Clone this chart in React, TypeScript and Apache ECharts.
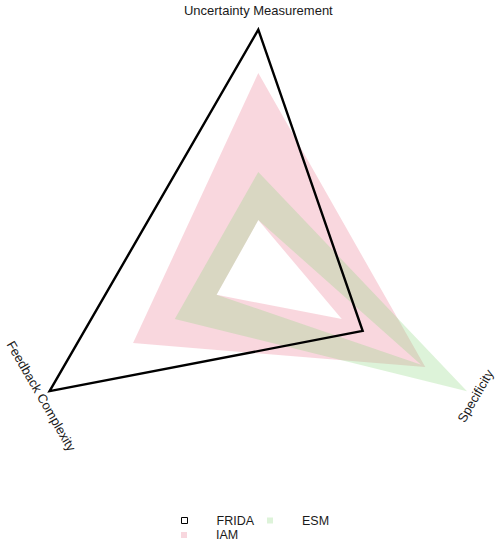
import React, { useEffect, useRef } from 'react';
import * as echarts from 'echarts';

// Radar axes (clockwise from the top)
const axisNames = ['Uncertainty Measurement', 'Specificity', 'Feedback Complexity'];
// FRIDA: single outline
const fridaValues = [1.0, 0.5, 1.0];
// IAM: range band (low / high per axis)
const iamLow = [0.21, 0.4, 0.2];
const iamHigh = [0.82, 0.8, 0.6];
// ESM: range band (low / high per axis)
const esmLow = [0.21, 0.78, 0.2];
const esmHigh = [0.41, 1.0, 0.4];

const angleOf = (i: number) => (i * 360) / axisNames.length;
const FONT = "'Liberation Sans', Arial, Helvetica, sans-serif";

export default function App() {
  const ref = useRef<HTMLDivElement>(null);
  useEffect(() => {
    const chart = echarts.init(ref.current!, null, { renderer: 'svg' });

    const band = (low: number[], high: number[], fill: string) => (params: any, api: any) => {
      const o = high.map((v, i) => api.coord([v, angleOf(i)]));
      const inn = low.map((v, i) => api.coord([v, angleOf(i)]));
      const points = [o[0], o[1], o[2], o[0], inn[0], inn[2], inn[1], inn[0]];
      return { type: 'polygon', shape: { points }, style: { fill, stroke: 'none' } };
    };

    const outline = (vals: number[]) => (params: any, api: any) => {
      const points = vals.map((v, i) => api.coord([v, angleOf(i)]));
      return {
        type: 'polygon',
        shape: { points },
        style: { fill: 'none', stroke: '#000', lineWidth: 2.4, lineJoin: 'miter', miterLimit: 10 },
      };
    };

    const labelItem = (params: any, api: any) => {
      const i = params.dataIndex;
      const ang = angleOf(i);
      const theta = 90 - ang; // screen angle (deg, CCW)
      const r = 1.04 + 0.04 * Math.max(0, Math.sin((theta * Math.PI) / 180));
      const p = api.coord([r, ang]);
      let rot = theta - 90;
      while (rot <= -90) rot += 180;
      while (rot > 90) rot -= 180;
      return {
        type: 'text',
        x: p[0],
        y: p[1],
        rotation: (rot * Math.PI) / 180,
        style: {
          text: axisNames[i],
          fill: '#1a1a1a',
          fontSize: 13,
          fontFamily: FONT,
          align: 'center',
          verticalAlign: 'middle',
        },
      };
    };

    const legendText = { fontSize: 12.5, fontFamily: FONT, color: '#1a1a1a', padding: [0, 0, 0, 24] };

    chart.setOption({
      animation: false,
      backgroundColor: '#fff',
      polar: { center: [258.3, 270.7], radius: 241 },
      angleAxis: {
        type: 'value', min: 0, max: 360, startAngle: 90, clockwise: true,
        show: false, axisLine: { show: false }, splitLine: { show: false },
        axisLabel: { show: false }, axisTick: { show: false },
      },
      radiusAxis: {
        type: 'value', min: 0, max: 1, show: false,
        axisLine: { show: false }, splitLine: { show: false },
        axisLabel: { show: false }, axisTick: { show: false },
      },
      legend: [
        {
          left: 176, top: 509, padding: 5, orient: 'horizontal', icon: 'rect',
          itemWidth: 6, itemHeight: 6, itemGap: 13, selectedMode: false,
          textStyle: legendText,
          data: [
            { name: 'FRIDA', itemStyle: { color: '#fff', borderColor: '#000', borderWidth: 1 } },
            { name: 'ESM', itemStyle: { color: '#ddf3d9', borderWidth: 0 } },
          ],
        },
        {
          left: 176, top: 523.5, padding: 5, orient: 'horizontal', icon: 'rect',
          itemWidth: 6, itemHeight: 6, itemGap: 13, selectedMode: false,
          textStyle: legendText,
          data: [{ name: 'IAM', itemStyle: { color: '#f8d7de', borderWidth: 0 } }],
        },
      ],
      series: [
        {
          type: 'custom', name: 'IAM', coordinateSystem: 'polar', z: 1,
          itemStyle: { color: '#f8d7de' },
          data: [[0, 0]], renderItem: band(iamLow, iamHigh, 'rgba(232,95,125,0.25)'),
        },
        {
          type: 'custom', name: 'ESM', coordinateSystem: 'polar', z: 2,
          itemStyle: { color: '#ddf3d9' },
          data: [[0, 0]], renderItem: band(esmLow, esmHigh, 'rgba(142,215,128,0.3)'),
        },
        {
          type: 'custom', name: 'FRIDA', coordinateSystem: 'polar', z: 3,
          itemStyle: { color: '#000' },
          data: [[0, 0]], renderItem: outline(fridaValues),
        },
        {
          type: 'custom', name: 'axisLabels', coordinateSystem: 'polar', z: 4,
          silent: true,
          data: axisNames.map((_, i) => [1, angleOf(i)]),
          renderItem: labelItem,
        },
      ],
    });
    return () => chart.dispose();
  }, []);
  return <div ref={ref} style={{ position: 'fixed', left: 0, top: 0, width: 500, height: 545 }} />;
}
